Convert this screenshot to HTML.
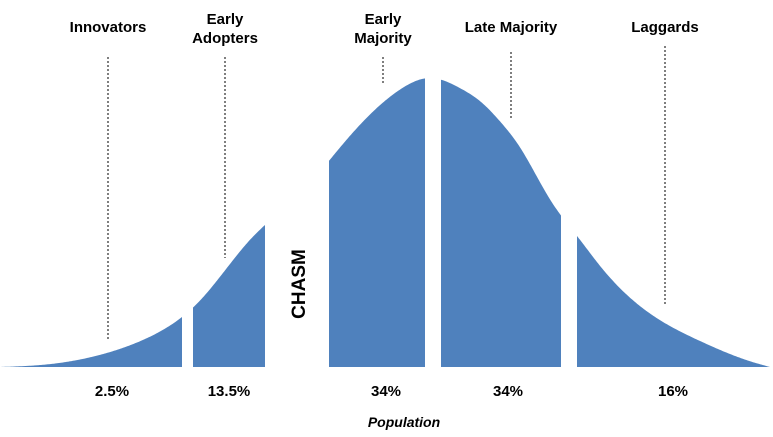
<!DOCTYPE html>
<html><head><meta charset="utf-8"><style>
html,body{margin:0;padding:0;background:#fff;}
svg{display:block;font-family:"Liberation Sans",Arial,sans-serif;}
</style></head><body>
<svg id="chart" width="773" height="437" viewBox="0 0 773 437" xmlns="http://www.w3.org/2000/svg">
<g id="marks"></g>
<text transform="translate(305,284) rotate(-90)" text-anchor="middle" font-size="19" font-weight="bold" fill="#000">CHASM</text>
<text x="404" y="427" text-anchor="middle" font-size="14" font-style="italic" font-weight="bold">Population</text>
</svg>
<script>
// Data
const categories = ["Innovators","Early Adopters","Early Majority","Late Majority","Laggards"];
const percents = ["2.5%","13.5%","34%","34%","16%"];
const segStart = [0, 193, 329, 441, 577];
const segEnd = [182, 265, 425, 561, 770];
// adoption density curve (percent of peak) sampled along population axis
const curveX = [0, 50, 100, 150, 200, 250, 300, 350, 400, 430, 460, 480, 500, 520, 550, 580, 600, 650, 700, 750, 770];
const density = [0, 1, 4.2, 10.5, 23, 44, 60, 80, 96, 100, 96.5, 92, 85, 76, 58, 44, 35, 18.5, 9, 2, 0];
const labelX = [108, 225, 383, 511, 665];
const lineTop = [57, 57, 57, 52, 46];
const lineBottom = [340, 258, 84, 118, 305];
const labelLines = [["Innovators"],["Early","Adopters"],["Early","Majority"],["Late Majority"],["Laggards"]];
const pctX = [112, 229, 386, 508, 673];

const baseY = 367, peakH = 289;
function yScale(v){return baseY - v/100*peakH;}
// natural cubic spline
const n = curveX.length;
const M = new Array(n).fill(0);
(function(){
  const a=[],b=[],c=[],r=[];
  for(let i=1;i<n-1;i++){
    const h0=curveX[i]-curveX[i-1], h1=curveX[i+1]-curveX[i];
    a.push(h0); b.push(2*(h0+h1)); c.push(h1);
    r.push(6*((density[i+1]-density[i])/h1-(density[i]-density[i-1])/h0));
  }
  const k=r.length;
  for(let i=1;i<k;i++){const w=a[i]/b[i-1];b[i]-=w*c[i-1];r[i]-=w*r[i-1];}
  const s=new Array(k);
  s[k-1]=r[k-1]/b[k-1];
  for(let i=k-2;i>=0;i--) s[i]=(r[i]-c[i]*s[i+1])/b[i];
  for(let i=0;i<k;i++) M[i+1]=s[i];
})();
function densAt(x){
  let i=0; while(i<n-2 && x>curveX[i+1]) i++;
  const h=curveX[i+1]-curveX[i], A=(curveX[i+1]-x)/h, B=(x-curveX[i])/h;
  const v=A*density[i]+B*density[i+1]+((A*A*A-A)*M[i]+(B*B*B-B)*M[i+1])*h*h/6;
  return Math.max(0,v);
}
const NS="http://www.w3.org/2000/svg";
const g=document.getElementById('marks');
for(let i=0;i<categories.length;i++){
  let d=`M${segStart[i]},${baseY}`;
  for(let x=segStart[i];x<=segEnd[i];x+=1){d+=` L${x},${yScale(densAt(x)).toFixed(1)}`;}
  d+=` L${segEnd[i]},${yScale(densAt(segEnd[i])).toFixed(1)} L${segEnd[i]},${baseY} Z`;
  const p=document.createElementNS(NS,'path');
  p.setAttribute('d',d);p.setAttribute('fill','#4f81bd');
  
  
  g.appendChild(p);
  const l=document.createElementNS(NS,'line');
  l.setAttribute('x1',labelX[i]);l.setAttribute('x2',labelX[i]);
  l.setAttribute('y1',lineTop[i]);l.setAttribute('y2',lineBottom[i]);
  l.setAttribute('stroke','#7f7f7f');l.setAttribute('stroke-width','2');l.setAttribute('stroke-dasharray','2,2');
  
  
  g.appendChild(l);
  const lines=labelLines[i];
  const y0=lines.length===1?32:24;
  lines.forEach((t,k)=>{
    const tx=document.createElementNS(NS,'text');
    tx.setAttribute('x',labelX[i]);tx.setAttribute('y',y0+k*19);
    tx.setAttribute('text-anchor','middle');tx.setAttribute('font-size','15');tx.setAttribute('font-weight','bold');
    tx.textContent=t;
    
    
    g.appendChild(tx);
  });
  const pt=document.createElementNS(NS,'text');
  pt.setAttribute('x',pctX[i]);pt.setAttribute('y',396);
  pt.setAttribute('text-anchor','middle');pt.setAttribute('font-size','15');pt.setAttribute('font-weight','bold');
  pt.textContent=percents[i];
  
  
  g.appendChild(pt);
}
</script>
</body></html>
